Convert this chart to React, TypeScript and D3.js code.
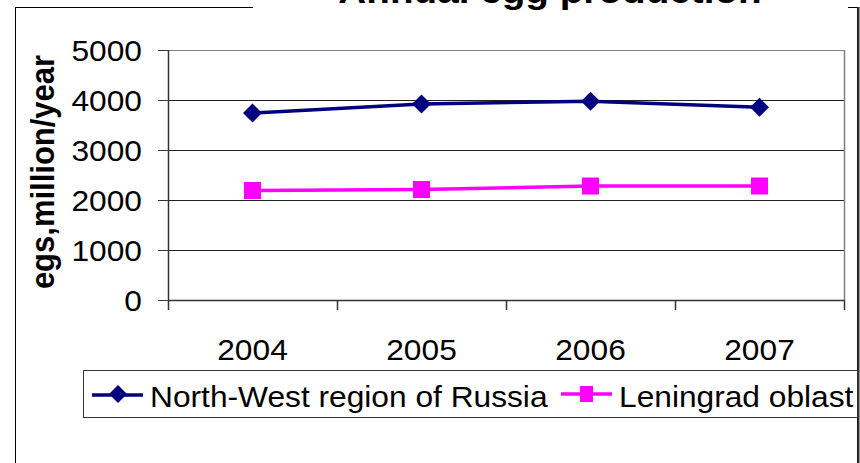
import React from "react";
import * as d3 from "d3";

const years = ["2004", "2005", "2006", "2007"];
const northWest = [3740, 3920, 3975, 3855];
const leningrad = [2190, 2210, 2280, 2280];
const yTicks = [0, 1000, 2000, 3000, 4000, 5000];
const seriesNames = ["North-West region of Russia", "Leningrad oblast"];
const titleText = "Annual egg production";
const yTitle = "egs,million/year";

const W = 860;
const H = 463;
const plot = { left: 168, right: 844, top: 50, bottom: 300 };
const FONT = "'Liberation Sans', Arial, sans-serif";
const SX = 1.075;

function T({ x, y, anchor = "start", size, bold = false, children, rotate = 0 }: any) {
  const tr = rotate
    ? `translate(${x},${y}) rotate(${rotate}) scale(1,${SX})`
    : `translate(${x},${y}) scale(${SX},1)`;
  return (
    <text
      transform={tr}
      textAnchor={anchor}
      fontFamily={FONT}
      fontSize={size}
      fontWeight={bold ? "bold" : "normal"}
      fill="#000"
    >
      {children}
    </text>
  );
}

export default function App() {
  const x = d3.scaleBand().domain(years).range([plot.left, plot.right]).padding(0);
  const y = d3.scaleLinear().domain([0, 5000]).range([plot.bottom, plot.top]);
  const cx = (d: string) => (x(d) as number) + x.bandwidth() / 2;
  const line = d3
    .line<number>()
    .x((_, i) => cx(years[i]))
    .y((v) => y(v));

  const navy = "#000080";
  const magenta = "#FF00FF";
  const diamond = (px: number, py: number, r = 9.5) =>
    `M${px},${py - r}L${px + r},${py}L${px},${py + r}L${px - r},${py}Z`;

  const boundaries = [...years.map((d) => x(d) as number), plot.right];

  return (
    <svg
      width={W}
      height={H}
      style={{ position: "absolute", left: 0, top: 0, background: "#fff" }}
    >
      <rect x={0} y={0} width={W} height={H} fill="#fff" />
      {/* outer frame */}
      <rect x={15.5} y={7.5} width={842} height={480} fill="none" stroke="#000" strokeWidth={1} />
      <line x1={858.5} x2={858.5} y1={7} y2={H} stroke="#333" strokeWidth={2} />
      {/* title background */}
      <rect x={253} y={0} width={595} height={20} fill="#fff" />
      <T x={550} y={3} anchor="middle" size={36} bold>
        {titleText}
      </T>

      {/* gridlines */}
      {yTicks.map((t) => (
        <line
          key={t}
          x1={plot.left}
          x2={plot.right}
          y1={Math.round(y(t)) + 0.5}
          y2={Math.round(y(t)) + 0.5}
          stroke="#222"
          strokeWidth={1}
        />
      ))}
      {/* plot area border */}
      <line x1={plot.left} x2={plot.right} y1={plot.top + 0.5} y2={plot.top + 0.5} stroke="#808080" />
      <line x1={plot.right + 0.5} x2={plot.right + 0.5} y1={plot.top} y2={plot.bottom} stroke="#808080" strokeWidth={1.5} />

      {/* y axis */}
      <line x1={plot.left + 0.5} x2={plot.left + 0.5} y1={plot.top} y2={plot.bottom} stroke="#333" strokeWidth={1.5} />
      {yTicks.map((t) => (
        <g key={"yt" + t}>
          <line x1={plot.left - 10} x2={plot.left} y1={Math.round(y(t)) + 0.5} y2={Math.round(y(t)) + 0.5} stroke="#333" />
          <T x={142} y={y(t) + 11} anchor="end" size={29.5}>
            {String(t)}
          </T>
        </g>
      ))}
      {/* x axis */}
      <line x1={plot.left} x2={plot.right} y1={plot.bottom + 0.5} y2={plot.bottom + 0.5} stroke="#333" strokeWidth={1.5} />
      {boundaries.map((b, i) => (
        <line key={"xt" + i} x1={Math.round(b) + 0.5} x2={Math.round(b) + 0.5} y1={plot.bottom} y2={plot.bottom + 10} stroke="#333" strokeWidth={1.5} />
      ))}
      {years.map((d) => (
        <T key={"xl" + d} x={cx(d)} y={360} anchor="middle" size={29.5}>
          {d}
        </T>
      ))}

      {/* y axis title */}
      <T x={54} y={172} anchor="middle" size={31} bold rotate={-90}>
        {yTitle}
      </T>

      {/* series */}
      <path d={line(northWest) as string} fill="none" stroke={navy} strokeWidth={3.5} />
      {northWest.map((v, i) => (
        <path key={"nw" + i} d={diamond(cx(years[i]), y(v))} fill={navy} />
      ))}
      <path d={line(leningrad) as string} fill="none" stroke={magenta} strokeWidth={3.5} />
      {leningrad.map((v, i) => (
        <rect key={"lo" + i} x={cx(years[i]) - 8.5} y={y(v) - 8.5} width={17} height={17} fill={magenta} />
      ))}

      {/* legend */}
      <rect x={83.5} y={370.5} width={774} height={47} fill="#fff" stroke="#333" strokeWidth={1} />
      <line x1={92} x2={143} y1={395} y2={395} stroke={navy} strokeWidth={3.5} />
      <path d={diamond(118, 394, 9)} fill={navy} />
      <T x={150} y={407} size={29.5}>
        {seriesNames[0]}
      </T>
      <line x1={561} x2={612} y1={394} y2={394} stroke={magenta} strokeWidth={3.5} />
      <rect x={580} y={386} width={13} height={16} fill={magenta} />
      <T x={619} y={407} size={29.5}>
        {seriesNames[1]}
      </T>
    </svg>
  );
}
